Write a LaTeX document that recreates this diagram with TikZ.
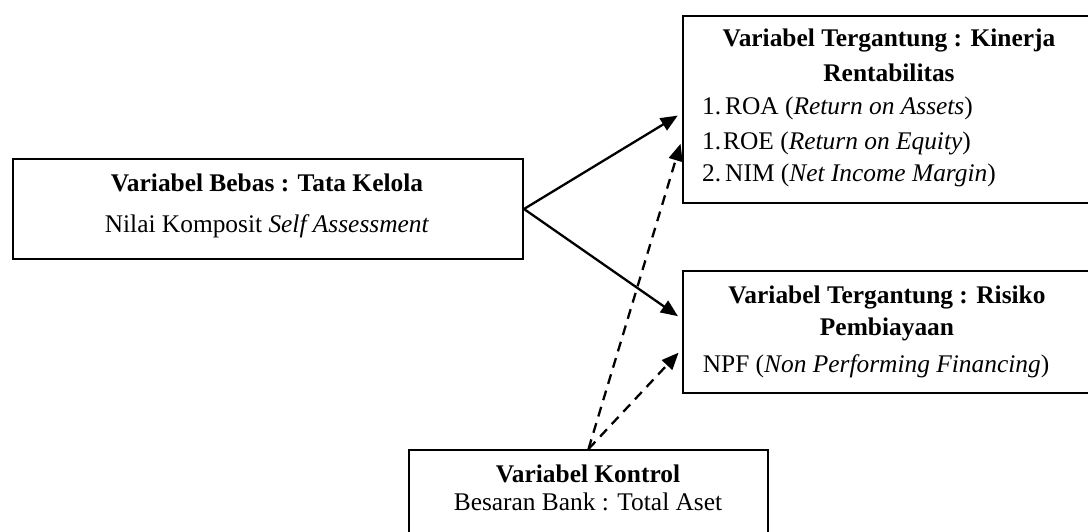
\documentclass[tikz,border=0pt]{standalone}
\usepackage{fontspec}
\setmainfont{Liberation Serif}
\usetikzlibrary{arrows.meta}
\begin{document}
\begin{tikzpicture}[x=1pt,y=-1pt,
  box/.style={draw,line width=2pt,inner sep=0pt,anchor=north west},
  txt/.style={anchor=base,inner sep=0pt,font=\fontsize{25.4}{30}\selectfont},
  txtl/.style={anchor=base west,inner sep=0pt,font=\fontsize{25.4}{30}\selectfont},
  arr/.style={line width=2.3pt,-{Triangle[length=17pt,width=14pt]},shorten >=5pt},
  darr/.style={arr,dash pattern=on 10pt off 7pt}]
\useasboundingbox (0,0) rectangle (1088,532);
% boxes
\node[box,minimum width=413pt,minimum height=187pt] (kinerja) at (682,15) {};
\node[box,minimum width=413pt,minimum height=122pt] (risiko) at (682,270) {};
\node[box,minimum width=510pt,minimum height=100pt] (bebas) at (12,158) {};
\node[box,minimum width=359pt,minimum height=96pt] (kontrol) at (408,449) {};
% texts: kinerja
\node[txt] (k1) at (889,47) {\bfseries Variabel Tergantung : Kinerja};
\node[txt] (k2) at (889,82) {\bfseries Rentabilitas};
\node[txtl] (k3n) at (702,115) {1.};
\node[txtl] (k3) at (725,115) {ROA (\textit{Return on Assets})};
\node[txtl] (k4n) at (702,150) {1.};
\node[txtl] (k4) at (723,150) {ROE (\textit{Return on Equity})};
\node[txtl] (k5n) at (702,182) {2.};
\node[txtl] (k5) at (725,182) {NIM (\textit{Net Income Margin})};
% texts: risiko
\node[txt] (r1) at (887,303) {\bfseries Variabel Tergantung : Risiko};
\node[txt] (r2) at (887,335) {\bfseries Pembiayaan};
\node[txt] (r3) at (876,372) {NPF (\textit{Non Performing Financing})};
% texts: bebas
\node[txt] (b1) at (267,192) {\bfseries Variabel Bebas : Tata Kelola};
\node[txt] (b2) at (267,233) {Nilai Komposit \textit{Self Assessment}};
% texts: kontrol
\node[txt] (c1) at (588,482) {\bfseries Variabel Kontrol};
\node[txt] (c2) at (588,510) {Besaran Bank : Total Aset};
% connectors
\draw[arr] (bebas.east) -- ([yshift=-3.5pt]kinerja.west);
\draw[arr] (bebas.east) -- ([yshift=13pt]risiko.west);
\draw[darr] (kontrol.north) -- ([yshift=-29.5pt]kinerja.west);
\draw[darr] (kontrol.north) -- ([yshift=-17pt]risiko.west);
\end{tikzpicture}
\end{document}
